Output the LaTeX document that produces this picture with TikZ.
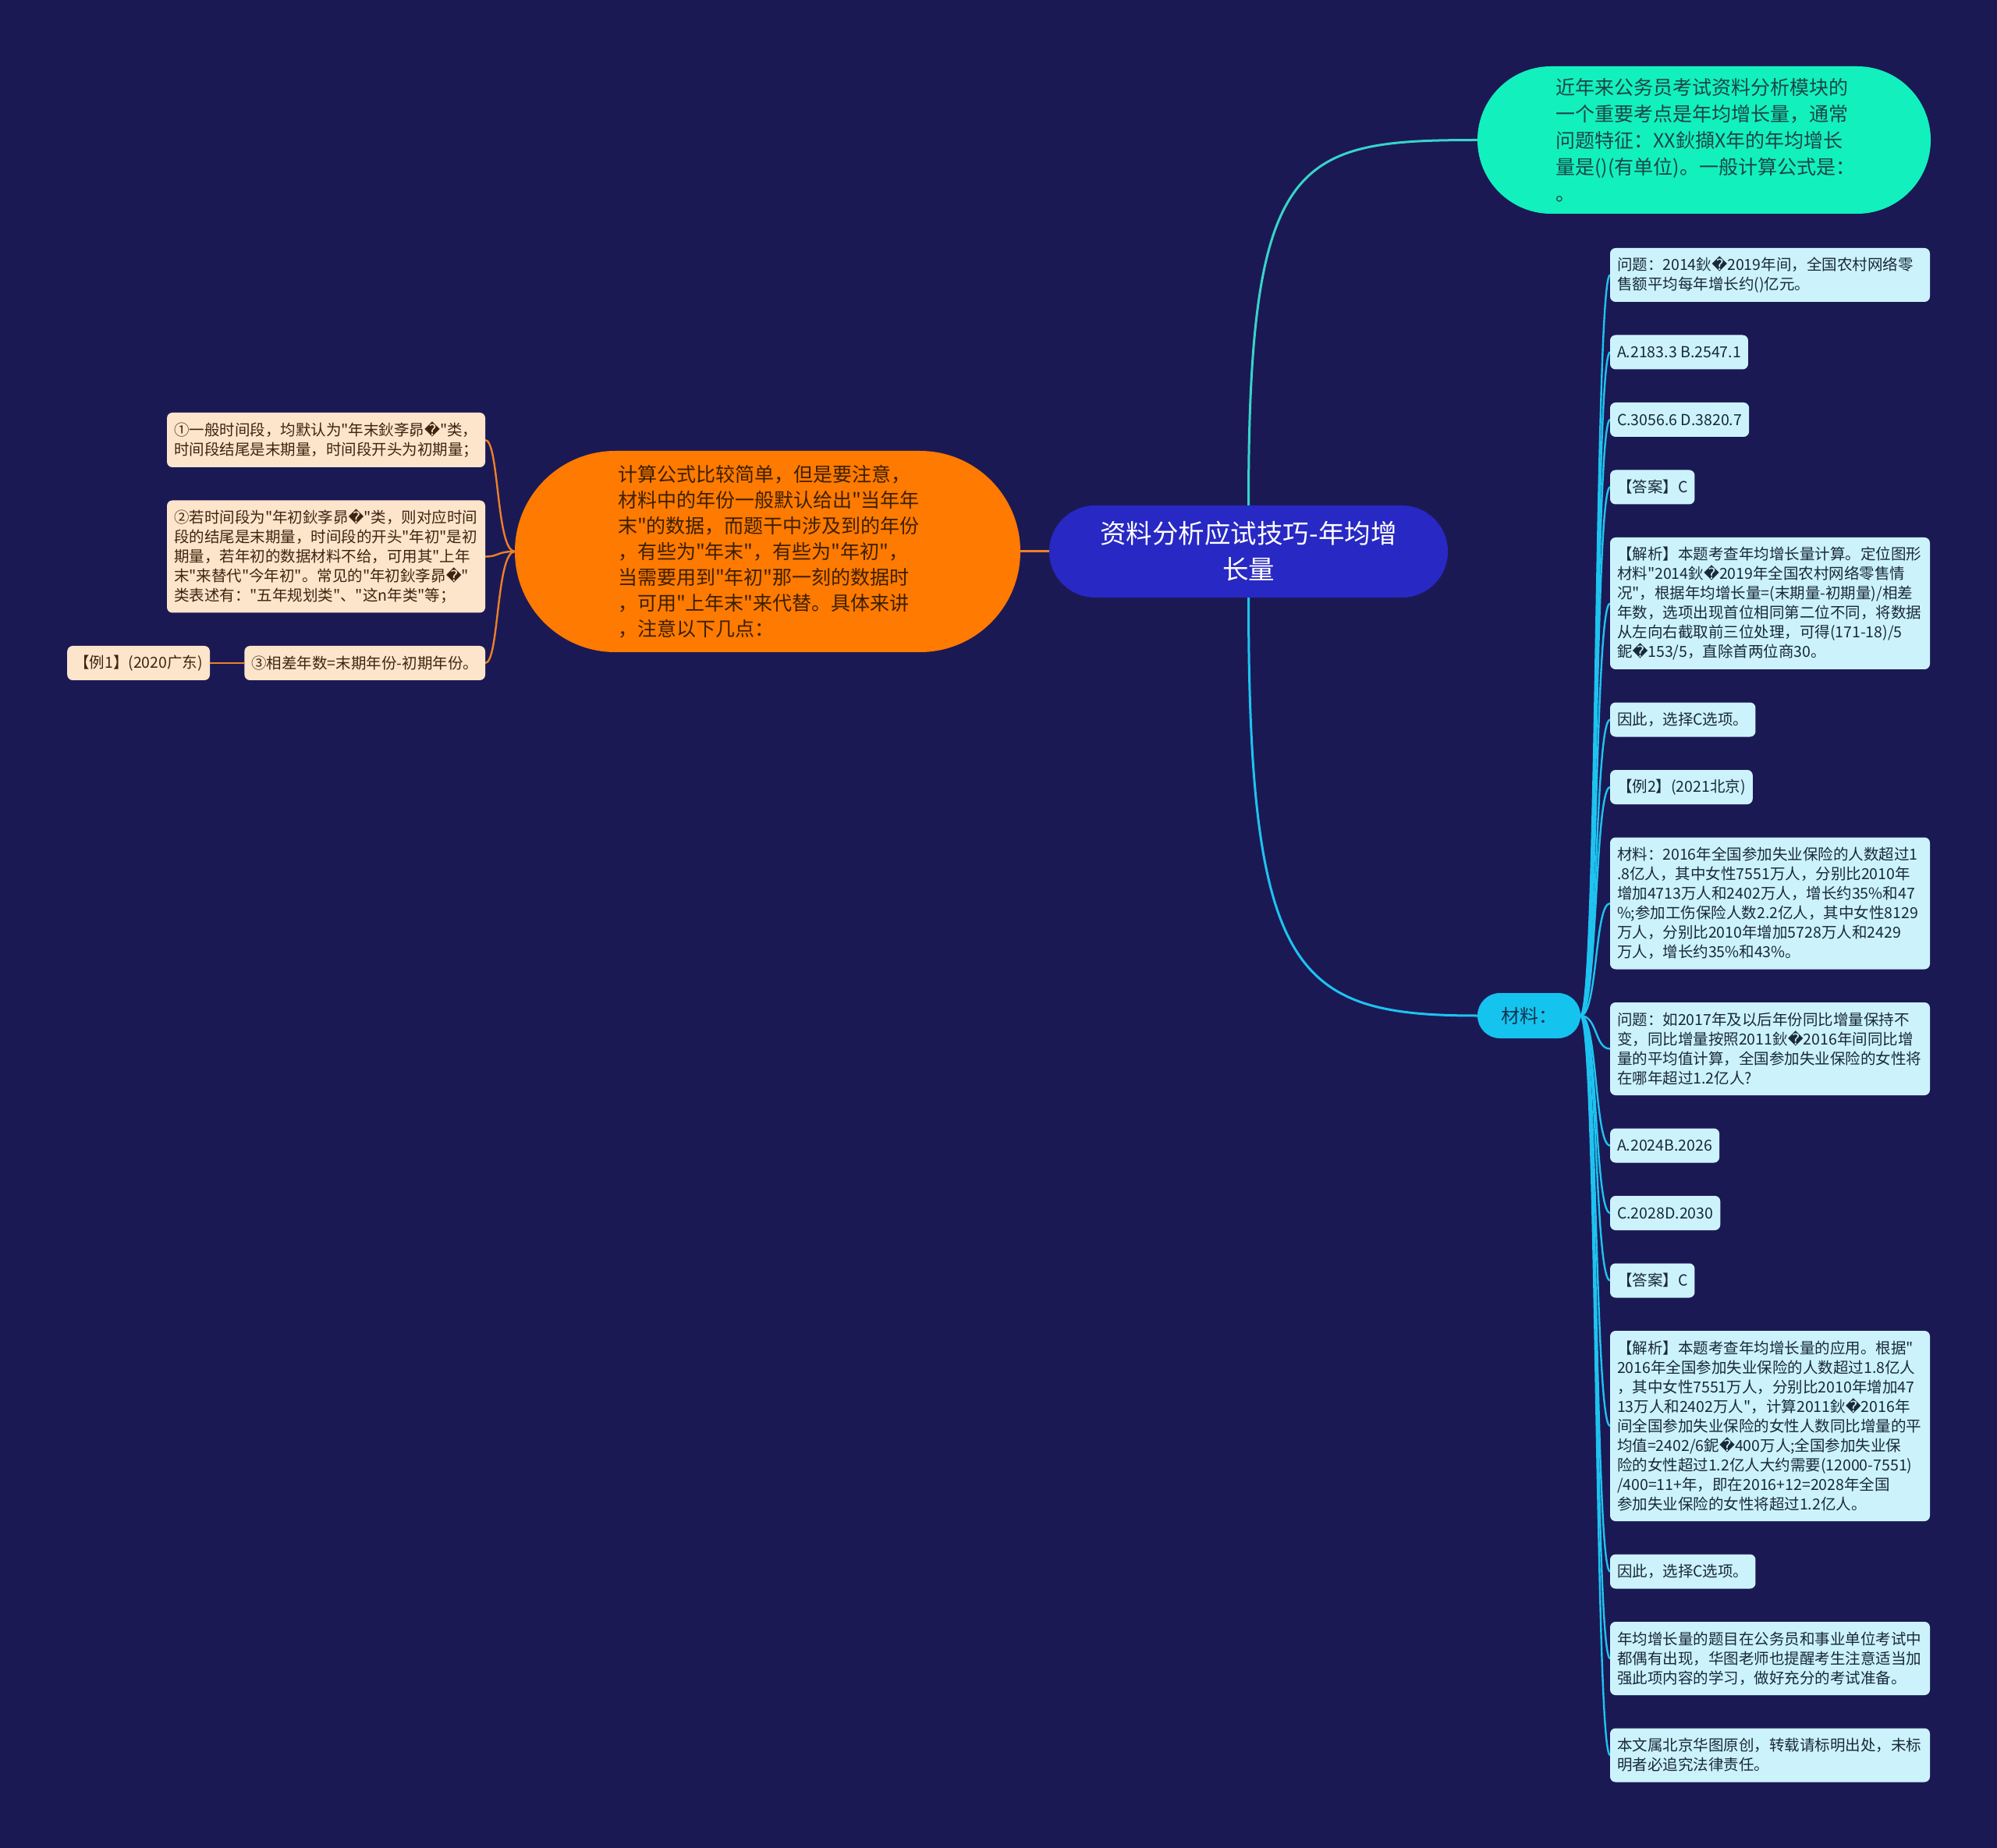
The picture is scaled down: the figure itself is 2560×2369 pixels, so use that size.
\documentclass[tikz,border=0pt]{standalone}
\usepackage{fontspec}
\newfontfamily\cjk{Noto Sans CJK SC}
\newfontfamily\dvs{DejaVu Sans}
\newcommand\rch{{\dvs\char"FFFD}}
\usetikzlibrary{backgrounds}
\definecolor{bgc}{RGB}{27,25,84}
\definecolor{rootc}{RGB}{40,40,196}
\definecolor{topc}{RGB}{18,240,190}
\definecolor{topt}{RGB}{28,70,70}
\definecolor{ornc}{RGB}{255,122,0}
\definecolor{ornt}{RGB}{60,32,0}
\definecolor{matc}{RGB}{20,196,238}
\definecolor{matt}{RGB}{20,50,80}
\definecolor{rfill}{RGB}{204,243,252}
\definecolor{rtext}{RGB}{25,40,60}
\definecolor{lfill}{RGB}{253,229,203}
\definecolor{ltext}{RGB}{60,36,18}
\definecolor{rline}{RGB}{30,195,240}
\definecolor{lline}{RGB}{238,128,40}
\definecolor{tline}{RGB}{55,212,200}
\begin{document}
\cjk
\begin{tikzpicture}[x=0.5pt,y=-0.5pt,
  every node/.style={inner sep=0pt, outer sep=0pt},
  leafR/.style={fill=rfill, text=rtext, rounded corners=3.5pt,
    font=\cjk\fontsize{9.75pt}{12.5pt}\selectfont, inner xsep=4.5pt,
    minimum height=22pt, anchor=west},
  wideR/.style={leafR, text width=196pt, align=left},
  leafL/.style={fill=lfill, text=ltext, rounded corners=3.5pt,
    font=\cjk\fontsize{9.75pt}{12.5pt}\selectfont, inner xsep=4.5pt,
    minimum height=22pt, anchor=east},
  wideL/.style={leafL, text width=195pt, align=left},
  rootn/.style={fill=rootc, text=white, rounded corners=29.4pt,
    minimum width=255.5pt, minimum height=59pt, align=center,
    font=\cjk\fontsize{16.75pt}{23pt}\selectfont},
  topn/.style={fill=topc, text=topt, rounded corners=47.2pt,
    minimum width=290.5pt, minimum height=94.5pt, text width=190pt, align=left,
    font=\cjk\fontsize{12.5pt}{17pt}\selectfont},
  ornn/.style={fill=ornc, text=ornt, rounded corners=64.4pt,
    minimum width=324pt, minimum height=129pt, text width=192pt, align=left,
    font=\cjk\fontsize{12.5pt}{16.5pt}\selectfont},
  matn/.style={fill=matc, text=matt, rounded corners=14.4pt,
    minimum width=66pt, minimum height=29pt,
    font=\cjk\fontsize{12pt}{14pt}\selectfont},
  conR/.style={draw=rline, line width=1.2pt},
  conL/.style={draw=lline, line width=1.2pt},
  conM/.style={line width=1.5pt}
]
\useasboundingbox (0,0) rectangle (2560,2369);

% main nodes
\node[rootn] (root) at (1600.5,707) {资料分析应试技巧-年均增\\长量};
\node[topn] (top) at (2184.5,179.5) {近年来公务员考试资料分析模块的\\一个重要考点是年均增长量，通常\\问题特征：XX鈥擷X年的年均增长\\量是()(有单位)。一般计算公式是：\\。};
\node[ornn] (orn) at (984,707) {计算公式比较简单，但是要注意，\\材料中的年份一般默认给出"当年年\\末"的数据，而题干中涉及到的年份\\，有些为"年末"，有些为"年初"，\\当需要用到"年初"那一刻的数据时\\，可用"上年末"来代替。具体来讲\\，注意以下几点：};
\node[matn] (mat) at (1960,1302) {材料：};

% left leaves
\node[wideL, minimum height=35pt] (l1) at (622,564) {①一般时间段，均默认为"年末鈥斈昴\rch"类，\\时间段结尾是末期量，时间段开头为初期量；};
\node[wideL, minimum height=72pt] (l2) at (622,713.5) {②若时间段为"年初鈥斈昴\rch"类，则对应时间\\段的结尾是末期量，时间段的开头"年初"是初\\期量，若年初的数据材料不给，可用其"上年\\末"来替代"今年初"。常见的"年初鈥斈昴\rch"\\类表述有："五年规划类"、"这n年类"等；};
\node[leafL] (l3) at (622,850) {③相差年数=末期年份-初期年份。};
\node[leafL] (ex1) at (269,850) {【例1】(2020广东)};

% right leaves
\node[wideR, minimum height=34.5pt] (r1) at (2064,352.5) {问题：2014鈥\rch 2019年间，全国农村网络零\\售额平均每年增长约()亿元。};
\node[leafR] (r2) at (2064,451.5) {A.2183.3 B.2547.1};
\node[leafR] (r3) at (2064,538) {C.3056.6 D.3820.7};
\node[leafR] (r4) at (2064,624.5) {【答案】C};
\node[wideR, minimum height=84.5pt] (r5) at (2064,773.5) {【解析】本题考查年均增长量计算。定位图形\\材料"2014鈥\rch 2019年全国农村网络零售情\\况"，根据年均增长量=(末期量-初期量)/相差\\年数，选项出现首位相同第二位不同，将数据\\从左向右截取前三位处理，可得(171-18)/5\\鈮\rch 153/5，直除首两位商30。};
\node[leafR] (r6) at (2064,922.5) {因此，选择C选项。};
\node[leafR] (r7) at (2064,1009) {【例2】(2021北京)};
\node[wideR, minimum height=84.5pt] (r8) at (2064,1158) {材料：2016年全国参加失业保险的人数超过1\\.8亿人，其中女性7551万人，分别比2010年\\增加4713万人和2402万人，增长约35\%和47\\\%;参加工伤保险人数2.2亿人，其中女性8129\\万人，分别比2010年增加5728万人和2429\\万人，增长约35\%和43\%。};
\node[wideR, minimum height=59.5pt] (r9) at (2064,1344.5) {问题：如2017年及以后年份同比增量保持不\\变，同比增量按照2011鈥\rch 2016年间同比增\\量的平均值计算，全国参加失业保险的女性将\\在哪年超过1.2亿人?};
\node[leafR] (r10) at (2064,1468.5) {A.2024B.2026};
\node[leafR] (r11) at (2064,1555) {C.2028D.2030};
\node[leafR] (r12) at (2064,1641.5) {【答案】C};
\node[wideR, minimum height=122pt] (r13) at (2064,1828) {【解析】本题考查年均增长量的应用。根据"\\2016年全国参加失业保险的人数超过1.8亿人\\，其中女性7551万人，分别比2010年增加47\\13万人和2402万人"，计算2011鈥\rch 2016年\\间全国参加失业保险的女性人数同比增量的平\\均值=2402/6鈮\rch 400万人;全国参加失业保\\险的女性超过1.2亿人大约需要(12000-7551)\\/400=11+年，即在2016+12=2028年全国\\参加失业保险的女性将超过1.2亿人。};
\node[leafR] (r14) at (2064,2014.5) {因此，选择C选项。};
\node[wideR, minimum height=47pt] (r15) at (2064,2126) {年均增长量的题目在公务员和事业单位考试中\\都偶有出现，华图老师也提醒考生注意适当加\\强此项内容的学习，做好充分的考试准备。};
\node[wideR, minimum height=34.5pt] (r16) at (2064,2250) {本文属北京华图原创，转载请标明出处，未标\\明者必追究法律责任。};

\begin{pgfonlayer}{background}
\fill[bgc] (0,0) rectangle (2560,2369);
% main connectors
\draw[conM, draw=tline] (root.north) .. controls +(0,-448) and +(-234,0) .. (top.west);
\draw[conM, draw=rline] (root.south) .. controls +(0,484) and +(-234,0) .. (mat.west);
\draw[conM, draw=lline] (root.west) -- (orn.east);
% left connectors
\foreach \n in {l1,l2,l3}
  \draw[conL] (orn.west) .. controls +(-24,0) and +(18,0) .. (\n.east);
\draw[conL] (l3.west) -- (ex1.east);
% right connectors
\foreach \n in {r1,r2,r3,r4,r5,r6,r7,r8,r9,r10,r11,r12,r13,r14,r15,r16}
  \draw[conR] (mat.east) .. controls +(22,0) and +(-20,0) .. (\n.west);
\end{pgfonlayer}
\end{tikzpicture}
\end{document}
